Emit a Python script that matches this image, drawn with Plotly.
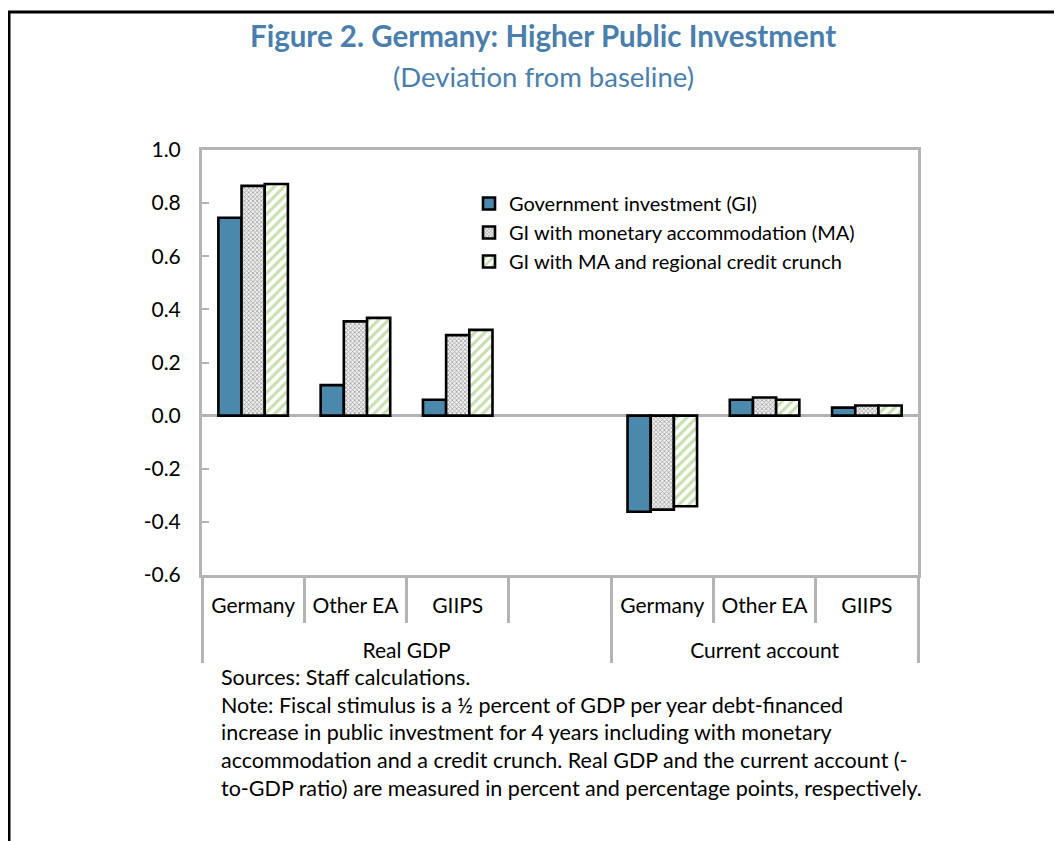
import plotly.graph_objects as go

# ---- data ----
groups = ["<br>Real GDP", "<br>Real GDP", "<br>Real GDP", "<br>Real GDP",
          "<br>Current account", "<br>Current account", "<br>Current account"]
regions = ["Germany", "Other EA", "GIIPS", " ", "Germany", "Other EA", "GIIPS"]
gi = [0.745, 0.115, 0.06, None, -0.362, 0.06, 0.03]
gi_ma = [0.865, 0.355, 0.303, None, -0.354, 0.068, 0.038]
gi_ma_cc = [0.872, 0.368, 0.323, None, -0.341, 0.06, 0.038]
series_names = ["Government investment (GI)",
                "GI with monetary accommodation (MA)",
                "GI with MA and regional credit crunch"]
ytickvals = [1.0, 0.8, 0.6, 0.4, 0.2, 0.0, -0.2, -0.4, -0.6]
yticktext = [f"{v:.1f}" for v in ytickvals]
boundaries = [0.5, 1.5, 2.5, 3.5, 4.5, 5.5]

title = "Figure 2. Germany: Higher Public Investment"
subtitle = "(Deviation from baseline)"
notes = ["Sources: Staff calculations.",
         "Note: Fiscal stimulus is a ½ percent of GDP per year debt-financed",
         "increase in public investment for 4 years including with monetary",
         "accommodation and a credit crunch. Real GDP and the current account (-",
         "to-GDP ratio) are measured in percent and percentage points, respectively."]

FONT = "Lato, 'Open Sans', sans-serif"
AXC = "#b4b4b4"
BLUE_T = "#4a7fad"

OFF = 8  # page body margin
W, H = 1062 - OFF, 841 - OFF
L, T = 202 - OFF, 150 - OFF
R = W - (918 - OFF)
B = H - (575 - OFF)
pw, ph = W - L - R, H - T - B

def px_x(xs):
    return (xs - OFF - L) / pw

def px_y(ys):
    return (H - B - (ys - OFF)) / ph

x = [groups, regions]
LW = 2.6

fig = go.Figure()
fig.add_trace(go.Bar(
    name=series_names[0], x=x, y=gi,
    marker=dict(color="#4a89ab", line=dict(color="black", width=LW)),
))
fig.add_trace(go.Bar(
    name=series_names[1], x=x, y=gi_ma,
    marker=dict(color="white", line=dict(color="black", width=LW),
                pattern=dict(shape="x", size=3, solidity=0.45,
                             fgcolor="#555555", bgcolor="#eeeeee")),
))
fig.add_trace(go.Bar(
    name=series_names[2], x=x, y=gi_ma_cc,
    marker=dict(color="white", line=dict(color="black", width=LW),
                pattern=dict(shape="/", size=7, solidity=0.45,
                             fgcolor="#93bf5f", bgcolor="white")),
))

fig.update_layout(
    width=W, height=H,
    margin=dict(l=L, r=R, t=T, b=B, autoexpand=False),
    paper_bgcolor="white", plot_bgcolor="white",
    barmode="group", bargap=0.32, bargroupgap=0,
    font=dict(family=FONT, size=21, color="black"),
    showlegend=True,
    legend=dict(x=px_x(469), y=px_y(184), xanchor="left", yanchor="top",
                bgcolor="rgba(0,0,0,0)", font=dict(size=20),
                itemwidth=30, tracegroupgap=0),
    xaxis=dict(
        type="multicategory", showline=True, linecolor=AXC, linewidth=3,
        mirror=True, ticks="outside", ticklen=45, tickcolor=AXC, tickwidth=3,
        showdividers=True, dividercolor=AXC, dividerwidth=3,
        ticklabelstandoff=10,
        tickfont=dict(size=21), showgrid=False, automargin=False,
    ),
    yaxis=dict(
        range=[-0.6, 1.0], tickvals=ytickvals, ticktext=yticktext,
        showline=True, linecolor=AXC, linewidth=3, mirror=True,
        ticks="inside", ticklen=7, tickcolor=AXC, tickwidth=2,
        showgrid=False, zeroline=True, zerolinecolor=AXC, zerolinewidth=3,
        ticklabelstandoff=14, tickfont=dict(size=21), automargin=False,
    ),
    xaxis2=dict(
        overlaying="x", anchor="free", position=0.375, range=[-0.5, 6.5],
        tickvals=boundaries, ticks="inside", ticklen=7, tickcolor=AXC,
        tickwidth=3, showticklabels=False, showline=False, showgrid=False,
        zeroline=False,
    ),
)

ann = [
    dict(text="<b>" + title + "</b>", x=px_x(543), y=px_y(36), xref="paper", yref="paper",
         showarrow=False, xanchor="center", yanchor="middle",
         font=dict(family=FONT, size=29.5, color=BLUE_T)),
    dict(text=subtitle, x=px_x(543), y=px_y(76), xref="paper", yref="paper",
         showarrow=False, xanchor="center", yanchor="middle",
         font=dict(family=FONT, size=27.5, color=BLUE_T)),
]
for i, line in enumerate(notes):
    ann.append(dict(text=line, x=px_x(219), y=px_y(677 + i * 27.7), xref="paper",
                    yref="paper", showarrow=False, xanchor="left", yanchor="middle",
                    font=dict(family=FONT, size=21.5, color="black")))
fig.update_layout(annotations=ann)

fig.update_layout(shapes=[
    dict(type="line", xref="paper", yref="paper", x0=px_x(8), x1=px_x(1062),
         y0=px_y(12), y1=px_y(12), line=dict(color="black", width=3)),
    dict(type="line", xref="paper", yref="paper", x0=px_x(9), x1=px_x(9),
         y0=px_y(12), y1=px_y(841), line=dict(color="black", width=3)),
])

fig.write_html("out.html")
